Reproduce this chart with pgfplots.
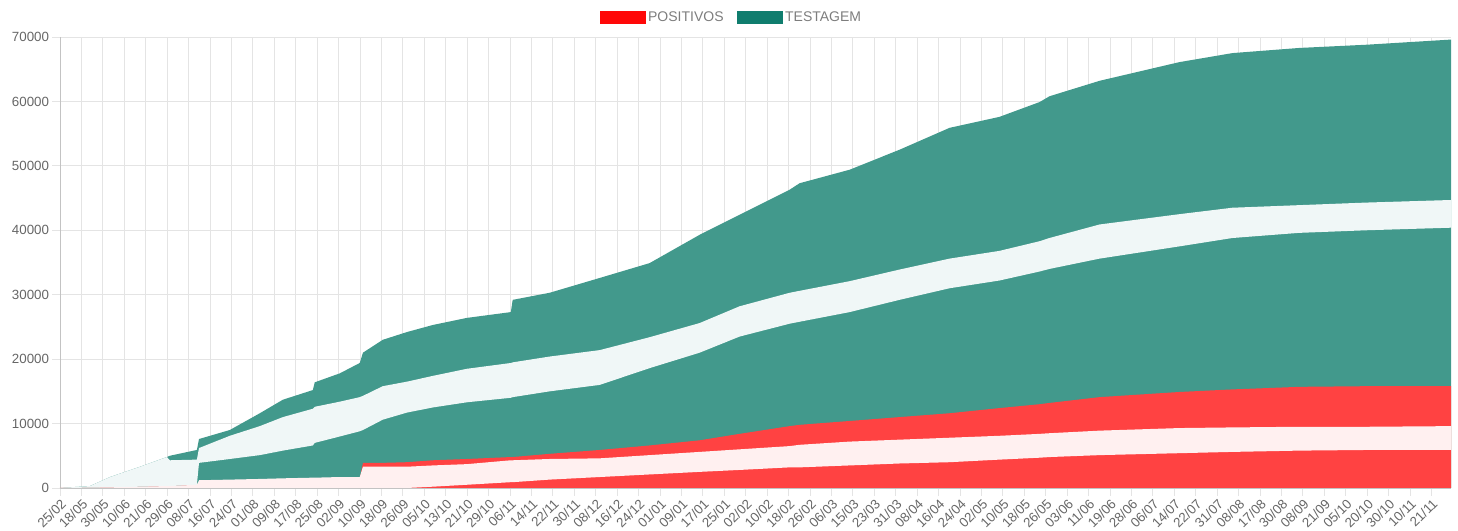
\documentclass[border=0pt]{standalone}
\usepackage{pgfplots}
\pgfplotsset{compat=1.18}
\usepackage{pgfplotstable}
\usepgfplotslibrary{fillbetween}
\usetikzlibrary{calc}
\usepackage{fontspec}
\setmainfont{Liberation Sans}
\definecolor{tealbar}{RGB}{66,153,140}
\definecolor{redbar}{RGB}{255,66,66}
\definecolor{teallg}{RGB}{16,125,110}
\definecolor{redlg}{RGB}{255,8,8}
\definecolor{txt}{RGB}{102,102,102}
\definecolor{gridc}{RGB}{228,228,228}
\definecolor{axc}{RGB}{195,195,195}

% c = category index, T = TESTAGEM top, R = POSITIVOS top,
% rlo/rhi and tlo/thi = white bands of the overlapping value labels
\pgfplotstableread{
c T R rlo rhi tlo thi
0 0 0 0 0 0 0
11.2 300 50 0 50 50 300
18.7 1700 100 0 100 100 1700
29.9 3300 200 0 200 200 3300
39.9 4800 300 0 300 300 4800
41.0 5000 300 0 300 300 4300
51.1 5900 500 0 500 500 4400
51.9 7600 600 0 1200 3900 6200
63.4 9000 800 0 1300 4500 8100
74.6 11600 1000 0 1400 5100 9600
83.2 13700 1100 0 1500 5800 11000
94.4 15200 1200 0 1600 6600 12300
95.1 16400 1200 0 1600 7000 12600
104.5 17800 1300 0 1700 8000 13400
111.9 19400 1400 0 1700 8800 14100
113.1 21000 3900 0 3300 9000 14300
120.5 23000 3900 0 3300 10600 15800
129.5 24200 4000 0 3300 11700 16500
139.2 25300 4300 200 3500 12500 17400
151.9 26400 4500 500 3700 13300 18500
168.3 27300 4800 900 4300 14000 19400
169.0 29200 4800 900 4300 14100 19500
182.8 30300 5300 1300 4500 15000 20400
201.5 32600 5900 1700 4600 16000 21400
220.1 34900 6600 2100 5100 18600 23400
238.8 39300 7400 2500 5600 21000 25600
253.7 42400 8400 2800 6000 23500 28200
272.4 46300 9600 3200 6500 25500 30300
276.1 47300 9800 3200 6700 25800 30600
294.8 49400 10400 3500 7200 27300 32100
313.4 52500 11000 3800 7500 29200 33900
332.1 55900 11600 4000 7800 31000 35600
350.7 57600 12400 4400 8100 32200 36800
365.7 59900 13000 4700 8400 33600 38300
369.4 60800 13200 4800 8500 34000 38800
388.1 63200 14100 5100 8900 35600 40900
417.9 66100 14900 5400 9300 37500 42500
437.7 67500 15300 5600 9400 38800 43500
462.7 68300 15700 5800 9500 39600 43900
487.7 68800 15800 5900 9500 40000 44300
519.3 69600 15800 5900 9600 40400 44700
}\data

\begin{document}
\begin{tikzpicture}
\begin{axis}[
  scale only axis,
  width=1043.25pt, height=338.25pt,
  xmin=0, xmax=519.3, ymin=0, ymax=70000,
  xtick={0,8,...,512},
  xticklabels={25/02,18/05,30/05,10/06,21/06,29/06,08/07,16/07,24/07,01/08,09/08,17/08,25/08,02/09,10/09,18/09,26/09,05/10,13/10,21/10,29/10,06/11,14/11,22/11,30/11,08/12,16/12,24/12,01/01,09/01,17/01,25/01,02/02,10/02,18/02,26/02,06/03,15/03,23/03,31/03,08/04,16/04,24/04,02/05,10/05,18/05,26/05,03/06,11/06,19/06,28/06,06/07,14/07,22/07,31/07,08/08,17/08,30/08,08/09,21/09,05/10,20/10,30/10,10/11,21/11},
  ytick={0,10000,...,70000},
  scaled y ticks=false,
  /pgf/number format/assume math mode=true,
  /pgf/number format/1000 sep={},
  grid=major,
  major grid style={draw=gridc, line width=0.6pt},
  axis lines*=left,
  axis line style={draw=axc, line width=0.7pt},
  tick align=outside,
  major tick length=6pt,
  tick style={draw=gridc, line width=0.6pt},
  ticklabel style={font=\fontsize{10}{12}\selectfont, text=txt},
  xticklabel style={rotate=45, anchor=north east, inner sep=1pt},
  yticklabel style={inner sep=2pt},
  legend style={at={(0.483,1)}, anchor=south, yshift=6pt, draw=none, fill=none,
    legend columns=2, font=\fontsize{10.5}{12}\selectfont, text=txt!85!white,
    /tikz/every even column/.append style={column sep=8pt}},
  legend cell align=left,
  fill between/on layer=main,
]
\addplot[fill=tealbar, draw=none, forget plot] table[x=c, y=T] {\data} \closedcycle;
\addplot[fill=redbar, draw=none, forget plot] table[x=c, y=R] {\data} \closedcycle;
\addplot[draw=none, name path=tl, forget plot] table[x=c, y=tlo] {\data};
\addplot[draw=none, name path=th, forget plot] table[x=c, y=thi] {\data};
\addplot[fill=white!94!teal, draw=none, forget plot] fill between[of=tl and th];
\addplot[draw=none, name path=rl, forget plot] table[x=c, y=rlo] {\data};
\addplot[draw=none, name path=rh, forget plot] table[x=c, y=rhi] {\data};
\addplot[fill=white!94!red, draw=none, forget plot] fill between[of=rl and rh];
\addlegendimage{legend image code/.code={\fill[redlg] (0pt,-4.5pt) rectangle (33.75pt,4.5pt);}}
\addlegendentry{POSITIVOS}
\addlegendimage{legend image code/.code={\fill[teallg] (0pt,-4.5pt) rectangle (33.75pt,4.5pt);}}
\addlegendentry{TESTAGEM}
\end{axis}
\path[use as bounding box] ($(current axis.south west)+(-45pt,-32.25pt)$) rectangle ($(current axis.north east)+(5.25pt,27.75pt)$);
\end{tikzpicture}
\end{document}
